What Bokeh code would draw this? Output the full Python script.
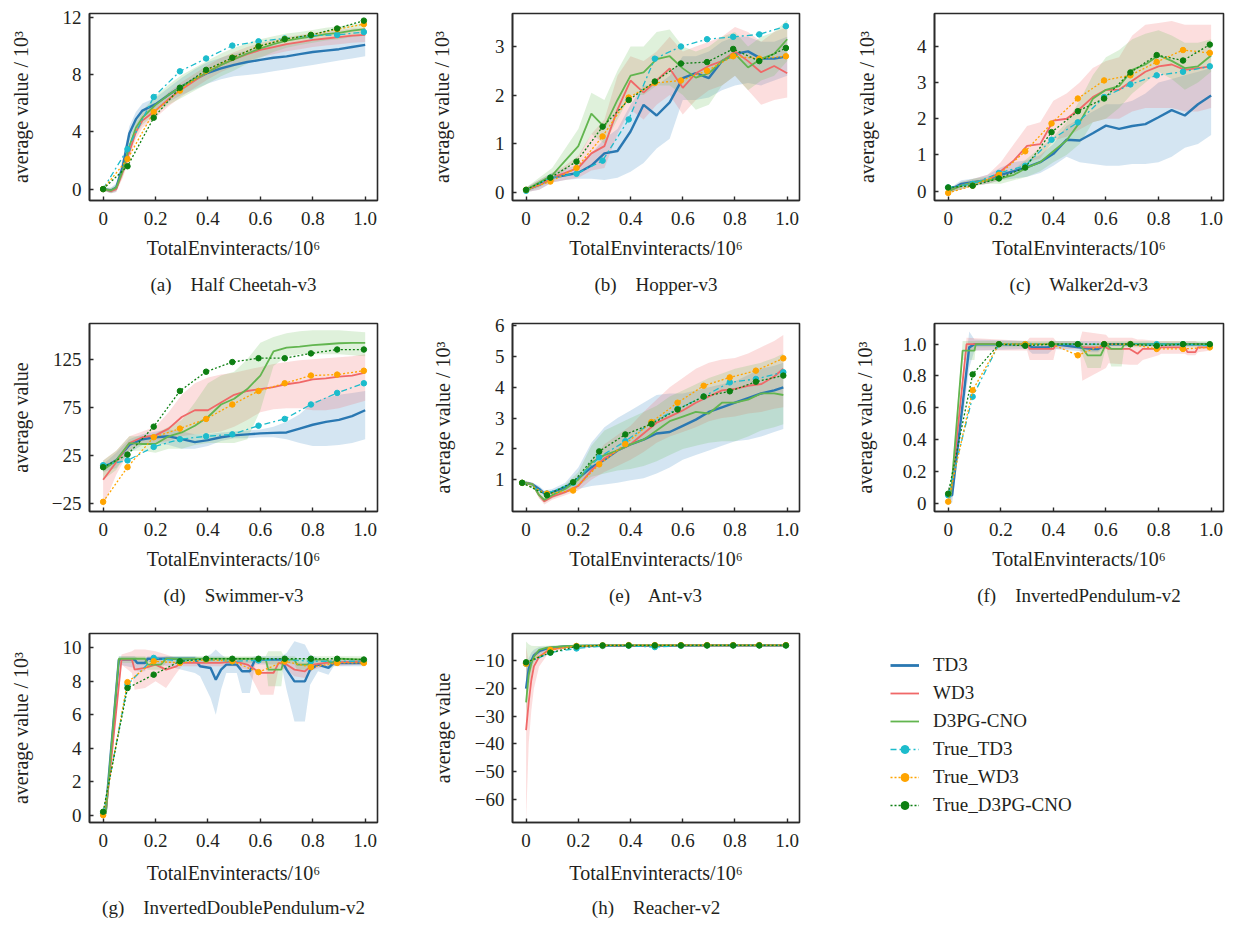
from bokeh.plotting import figure
from bokeh.layouts import gridplot
from bokeh.models import (Range1d, FixedTicker, CustomJSTickFormatter, Title,
                          Legend, LegendItem)
from bokeh.embed import file_html
from bokeh.resources import INLINE

FONT = "Liberation Serif"
TXT = "#231f20"
AXC = "#2a2a2a"

SERIES = ["TD3", "WD3", "D3PG-CNO", "True_TD3", "True_WD3", "True_D3PG-CNO"]
LINE_COLORS = ["#2a78b2", "#f06868", "#62b54f", "#1cbccc", "#ffa400", "#0d7f12"]
BAND_COLORS = ["#3b88c4", "#f36b6b", "#6cc05a"]

# ---------------- shared x values ----------------
X21 = [0.0, 0.05, 0.1, 0.15, 0.2, 0.25, 0.3, 0.35, 0.4, 0.45, 0.5,
       0.55, 0.6, 0.65, 0.7, 0.75, 0.8, 0.85, 0.9, 0.95, 1.0]
TX = [0.0, 0.093, 0.193, 0.293, 0.393, 0.493, 0.593, 0.693, 0.793, 0.893, 0.995]

# ---------------- (a) Half Cheetah-v3 ----------------
A_X = [0.0, 0.03, 0.05, 0.075, 0.1, 0.125, 0.15, 0.2, 0.25, 0.3, 0.35, 0.4,
       0.45, 0.5, 0.55, 0.6, 0.65, 0.7, 0.75, 0.8, 0.85, 0.9, 0.95, 1.0]
A_TD3 = [0.0, -0.1, 0.1, 1.6, 3.9, 4.9, 5.5, 5.95, 6.6, 7.2, 7.7, 8.15, 8.45, 8.7, 8.9, 9.05, 9.2, 9.3, 9.45, 9.6, 9.7, 9.8, 9.95, 10.1]
A_TD3_LO = [-0.1, -0.3, -0.2, 1.1, 3.4, 4.4, 5.0, 5.5, 6.1, 6.6, 7.0, 7.4, 7.7, 7.9, 8.0, 8.1, 8.25, 8.4, 8.55, 8.7, 8.85, 9.0, 9.15, 9.3]
A_TD3_HI = [0.1, 0.1, 0.4, 2.1, 4.4, 5.4, 6.0, 6.4, 7.1, 7.8, 8.4, 8.9, 9.2, 9.5, 9.7, 9.9, 10.05, 10.2, 10.3, 10.4, 10.5, 10.6, 10.75, 10.9]
A_WD3 = [0.0, -0.15, 0.0, 1.2, 2.6, 4.0, 4.8, 5.5, 6.3, 7.0, 7.6, 8.2, 8.7, 9.1, 9.45, 9.75, 9.95, 10.15, 10.3, 10.45, 10.55, 10.65, 10.75, 10.8]
A_WD3_LO = [-0.1, -0.3, -0.2, 0.8, 2.1, 3.5, 4.3, 5.0, 5.8, 6.5, 7.1, 7.7, 8.2, 8.6, 8.95, 9.25, 9.45, 9.65, 9.8, 9.95, 10.05, 10.15, 10.25, 10.3]
A_WD3_HI = [0.1, 0.0, 0.2, 1.6, 3.1, 4.5, 5.3, 6.0, 6.8, 7.5, 8.1, 8.7, 9.2, 9.6, 9.95, 10.25, 10.45, 10.65, 10.8, 10.95, 11.05, 11.15, 11.25, 11.3]
A_D3 = [0.0, -0.1, 0.1, 1.3, 3.0, 4.3, 5.0, 5.9, 6.6, 7.2, 7.7, 8.2, 8.7, 9.1, 9.5, 9.85, 10.15, 10.4, 10.55, 10.7, 10.85, 10.95, 11.1, 11.2]
A_D3_LO = [-0.1, -0.3, -0.1, 0.9, 2.5, 3.8, 4.5, 5.3, 5.9, 6.4, 6.9, 7.4, 7.9, 8.3, 8.8, 9.2, 9.6, 9.9, 10.1, 10.25, 10.4, 10.5, 10.65, 10.75]
A_D3_HI = [0.1, 0.1, 0.3, 1.7, 3.5, 4.8, 5.5, 6.5, 7.3, 8.0, 8.5, 9.0, 9.5, 9.9, 10.2, 10.5, 10.7, 10.9, 11.0, 11.15, 11.3, 11.4, 11.55, 11.65]
A_T_TD3 = [0.0, 2.8, 6.45, 8.25, 9.15, 10.05, 10.35, 10.55, 10.75, 10.8, 11.0]
A_T_WD3 = [0.0, 2.1, 5.4, 6.9, 8.3, 9.2, 10.0, 10.5, 10.8, 11.2, 11.55]
A_T_D3 = [0.0, 1.6, 5.0, 7.1, 8.35, 9.2, 10.0, 10.5, 10.8, 11.25, 11.8]

# ---------------- (b) Hopper-v3 ----------------
B_TD3 = [0.05, 0.15, 0.3, 0.35, 0.4, 0.55, 0.8, 0.85, 1.25, 1.8, 1.58, 1.85, 2.35, 2.45, 2.35, 2.7, 2.85, 2.9, 2.75, 2.75, 2.8]
B_TD3_LO = [0.0, 0.05, 0.2, 0.25, 0.28, 0.28, 0.25, 0.3, 0.42, 0.6, 0.9, 1.1, 1.9, 1.9, 1.95, 2.1, 2.2, 2.25, 2.2, 2.3, 2.4]
B_TD3_HI = [0.1, 0.25, 0.4, 0.5, 0.55, 0.8, 1.1, 1.3, 1.8, 2.2, 2.2, 2.4, 2.8, 2.8, 2.9, 3.1, 3.2, 3.2, 3.1, 3.1, 3.2]
B_WD3 = [0.05, 0.15, 0.3, 0.4, 0.5, 0.8, 0.95, 1.7, 2.3, 2.05, 2.3, 2.55, 2.15, 2.45, 2.6, 2.7, 2.9, 2.7, 2.47, 2.6, 2.45]
B_WD3_LO = [0.0, 0.05, 0.2, 0.25, 0.3, 0.45, 0.5, 1.2, 1.7, 1.5, 1.8, 2.0, 1.6, 1.9, 2.1, 2.2, 2.4, 2.1, 1.8, 1.9, 1.95]
B_WD3_HI = [0.1, 0.25, 0.4, 0.55, 0.75, 1.2, 1.5, 2.4, 2.8, 2.7, 2.9, 3.2, 2.9, 3.0, 3.1, 3.2, 3.4, 3.3, 3.1, 3.3, 3.4]
B_D3 = [0.05, 0.2, 0.35, 0.65, 0.95, 1.62, 1.34, 1.9, 2.4, 2.47, 2.74, 2.8, 2.55, 2.36, 2.45, 2.7, 2.85, 2.57, 2.75, 2.85, 3.15]
B_D3_LO = [0.0, 0.1, 0.25, 0.45, 0.7, 1.2, 1.0, 1.5, 2.0, 2.0, 2.2, 2.2, 2.0, 1.7, 1.8, 2.2, 2.4, 2.1, 2.3, 2.4, 2.7]
B_D3_HI = [0.1, 0.3, 0.5, 0.9, 1.3, 2.05, 1.9, 2.5, 3.0, 3.0, 3.3, 3.35, 3.0, 2.9, 3.0, 3.2, 3.3, 3.0, 3.2, 3.3, 3.55]
B_T_TD3 = [0.03, 0.3, 0.38, 0.65, 1.5, 2.75, 3.0, 3.15, 3.2, 3.25, 3.42]
B_T_WD3 = [0.05, 0.22, 0.5, 1.15, 1.95, 2.25, 2.3, 2.5, 2.8, 2.75, 2.8]
B_T_D3 = [0.05, 0.3, 0.63, 1.35, 1.9, 2.28, 2.65, 2.68, 2.95, 2.7, 2.97]

# ---------------- (c) Walker2d-v3 ----------------
C_TD3 = [0.0, 0.2, 0.25, 0.3, 0.45, 0.55, 0.66, 0.8, 1.03, 1.42, 1.4, 1.6, 1.81, 1.72, 1.8, 1.85, 2.04, 2.24, 2.09, 2.4, 2.64]
C_TD3_LO = [-0.05, 0.05, 0.15, 0.2, 0.3, 0.35, 0.4, 0.5, 0.7, 0.95, 0.8, 0.75, 0.7, 0.7, 0.75, 0.75, 0.8, 0.95, 1.2, 1.3, 1.55]
C_TD3_HI = [0.05, 0.3, 0.35, 0.45, 0.65, 0.8, 0.85, 1.0, 1.3, 1.8, 2.0, 2.2, 2.4, 2.4, 2.5, 2.7, 3.0, 3.1, 3.2, 3.3, 3.4]
C_WD3 = [0.0, 0.15, 0.25, 0.3, 0.55, 0.85, 1.25, 1.3, 1.95, 2.0, 2.27, 2.6, 2.8, 2.8, 3.05, 3.3, 3.45, 3.5, 3.35, 3.4, 3.45]
C_WD3_LO = [-0.05, 0.05, 0.15, 0.2, 0.3, 0.5, 0.8, 0.9, 1.4, 1.5, 1.7, 1.9, 2.0, 2.0, 2.2, 2.3, 2.3, 2.3, 2.2, 2.2, 2.3]
C_WD3_HI = [0.05, 0.25, 0.35, 0.45, 0.8, 1.3, 1.8, 1.9, 2.5, 2.7, 3.0, 3.4, 3.6, 3.7, 4.3, 4.6, 4.65, 4.7, 4.6, 4.6, 4.6]
C_D3 = [0.0, 0.15, 0.25, 0.3, 0.35, 0.45, 0.65, 0.8, 1.1, 1.4, 1.9, 2.55, 2.8, 2.9, 3.35, 3.5, 3.75, 3.6, 3.4, 3.45, 3.75]
C_D3_LO = [-0.05, 0.05, 0.15, 0.2, 0.2, 0.3, 0.4, 0.55, 0.8, 1.0, 1.3, 1.9, 2.0, 2.3, 2.7, 3.0, 3.3, 3.1, 2.8, 3.0, 3.3]
C_D3_HI = [0.05, 0.25, 0.35, 0.4, 0.5, 0.6, 0.9, 1.2, 1.5, 1.9, 2.5, 3.2, 3.7, 3.9, 4.2, 4.35, 4.45, 4.3, 4.1, 4.1, 4.2]
C_T_TD3 = [0.1, 0.2, 0.5, 0.7, 1.42, 1.9, 2.6, 2.95, 3.2, 3.3, 3.45]
C_T_WD3 = [-0.05, 0.15, 0.45, 1.1, 1.87, 2.56, 3.06, 3.2, 3.57, 3.9, 3.82]
C_T_D3 = [0.1, 0.15, 0.35, 0.65, 1.63, 2.21, 2.56, 3.28, 3.76, 3.61, 4.05]

# ---------------- (d) Swimmer-v3 ----------------
D_TD3 = [12, 20, 36, 42, 44, 45, 42, 39, 41, 44, 46, 47, 48, 48.5, 49, 53, 57, 60, 62, 66, 72]
D_TD3_LO = [8, 12, 28, 36, 38, 36, 32, 32, 35, 40, 43, 43, 44, 44, 42, 38, 35, 35, 36, 38, 42]
D_TD3_HI = [16, 28, 42, 47, 50, 52, 50, 47, 47, 49, 50, 51, 52, 55, 60, 68, 80, 85, 88, 90, 92]
D_WD3 = [0, 18, 38, 44, 46, 53, 65, 72, 72, 80, 88, 92, 94, 96, 99, 101, 104, 105, 107, 108, 111]
D_WD3_LO = [-28, 5, 30, 38, 38, 40, 45, 47, 48, 50, 55, 62, 70, 73, 74, 74, 72, 72, 74, 78, 82]
D_WD3_HI = [20, 30, 45, 50, 55, 70, 88, 100, 106, 109, 111, 114, 117, 120, 122, 124, 125, 126, 127, 128, 130]
D_D3 = [10, 20, 38, 37, 37, 45, 49, 56, 65, 78, 84, 94, 108, 133, 137, 138, 139.5, 140.5, 141.5, 142, 142]
D_D3_LO = [0, 10, 30, 30, 28, 32, 32, 36, 38, 38, 38, 42, 72, 118, 128, 130, 130, 130, 130, 129, 128]
D_D3_HI = [20, 30, 45, 45, 48, 55, 62, 80, 100, 108, 112, 125, 142, 148, 152, 154, 155, 155, 155, 154, 153]
D_T_TD3 = [15, 20, 34, 42, 45, 47, 56, 63, 78, 90, 100]
D_T_WD3 = [-23, 13, 44, 53, 63, 78, 92, 100, 108, 109, 113]
D_T_D3 = [13, 26, 55, 92, 112, 122, 126, 126, 131, 135, 135]

# ---------------- (e) Ant-v3 ----------------
E_X = [-0.02, 0.0, 0.025, 0.05, 0.07, 0.1, 0.15, 0.2, 0.25, 0.3, 0.35, 0.4,
       0.45, 0.5, 0.55, 0.6, 0.65, 0.7, 0.75, 0.8, 0.85, 0.9, 0.95, 0.985]
E_TX = [-0.015, 0.08, 0.18, 0.28, 0.38, 0.48, 0.58, 0.68, 0.78, 0.88, 0.985]
E_TD3 = [0.9, 0.9, 0.85, 0.7, 0.55, 0.6, 0.75, 1.05, 1.4, 1.65, 1.95, 2.15, 2.3, 2.5, 2.55, 2.75, 2.95, 3.2, 3.35, 3.5, 3.65, 3.8, 3.9, 4.0]
E_TD3_LO = [0.85, 0.85, 0.8, 0.6, 0.45, 0.5, 0.6, 0.7, 0.8, 0.85, 0.9, 0.98, 1.05, 1.2, 1.4, 1.65, 1.8, 1.95, 2.1, 2.25, 2.3, 2.4, 2.55, 2.65]
E_TD3_HI = [0.95, 0.95, 0.9, 0.8, 0.65, 0.7, 0.9, 1.4, 2.2, 2.7, 3.0, 3.25, 3.5, 3.75, 3.8, 3.8, 3.9, 4.0, 4.1, 4.2, 4.4, 4.6, 4.7, 4.8]
E_WD3 = [0.9, 0.9, 0.85, 0.5, 0.3, 0.45, 0.6, 0.8, 1.3, 1.7, 1.95, 2.15, 2.5, 2.85, 3.05, 3.25, 3.5, 3.7, 3.9, 3.95, 4.05, 4.1, 4.35, 4.6]
E_WD3_LO = [0.85, 0.85, 0.8, 0.4, 0.2, 0.35, 0.5, 0.65, 1.0, 1.25, 1.45, 1.65, 1.9, 2.2, 2.4, 2.55, 2.7, 2.9, 3.0, 3.05, 3.15, 3.2, 3.3, 3.35]
E_WD3_HI = [0.95, 0.95, 0.9, 0.6, 0.4, 0.55, 0.7, 0.95, 1.6, 2.15, 2.45, 2.75, 3.2, 3.6, 4.0, 4.3, 4.6, 4.8, 4.9, 4.95, 5.1, 5.3, 5.5, 5.7]
E_D3 = [0.9, 0.9, 0.85, 0.5, 0.35, 0.5, 0.7, 1.0, 1.55, 1.8, 1.95, 2.15, 2.3, 2.6, 2.9, 3.05, 3.2, 3.15, 3.5, 3.5, 3.6, 3.8, 3.8, 3.75]
E_D3_LO = [0.85, 0.85, 0.8, 0.4, 0.25, 0.4, 0.55, 0.8, 1.1, 1.2, 1.3, 1.35, 1.45, 1.6, 1.8, 2.0, 2.1, 2.2, 2.25, 2.25, 2.4, 2.6, 2.7, 2.8]
E_D3_HI = [0.95, 0.95, 0.9, 0.6, 0.45, 0.6, 0.85, 1.25, 2.1, 2.6, 2.8, 3.0, 3.2, 3.4, 3.7, 3.9, 4.1, 4.3, 4.45, 4.6, 4.7, 4.8, 4.95, 5.1]
E_T_TD3 = [0.9, 0.55, 0.9, 1.73, 2.25, 2.85, 3.3, 3.7, 4.16, 4.27, 4.49]
E_T_WD3 = [0.9, 0.55, 0.65, 1.5, 2.16, 2.87, 3.5, 4.05, 4.32, 4.54, 4.94]
E_T_D3 = [0.9, 0.5, 0.92, 1.92, 2.47, 2.81, 3.28, 3.7, 3.87, 4.18, 4.38]

# ---------------- (f) InvertedPendulum-v2 ----------------
F_TD3_X = [0.0, 0.015, 0.08, 0.1, 0.3, 0.32, 0.38, 0.4, 0.55, 0.57, 0.6, 1.0]
F_TD3 = [0.05, 0.05, 0.98, 1.0, 1.0, 0.98, 0.98, 1.0, 0.97, 0.97, 1.0, 1.0]
F_TD3_LO = [0.0, 0.0, 0.85, 0.96, 0.97, 0.94, 0.94, 0.97, 0.95, 0.95, 0.99, 0.99]
F_TD3_HI = [0.1, 0.1, 1.08, 1.03, 1.02, 1.01, 1.01, 1.02, 1.02, 1.02, 1.01, 1.01]
F_WD3_X = [0.0, 0.01, 0.07, 0.3, 0.31, 0.4, 0.41, 0.5, 0.51, 0.6, 0.61, 0.69, 0.7, 0.72,
           0.74, 0.8, 0.81, 0.9, 0.91, 0.94, 0.95, 1.0]
F_WD3 = [0.05, 0.05, 1.0, 1.0, 0.97, 0.97, 1.0, 1.0, 0.98, 0.98, 0.97, 0.97, 0.96, 0.94,
         0.97, 0.97, 0.98, 0.98, 0.95, 0.95, 0.98, 0.98]
F_WD3_LO = [0.0, 0.0, 0.96, 0.96, 0.9, 0.9, 0.97, 0.97, 0.77, 0.85, 0.88, 0.87, 0.87, 0.87,
            0.9, 0.93, 0.94, 0.94, 0.93, 0.93, 0.95, 0.96]
F_WD3_HI = [0.1, 0.1, 1.04, 1.02, 1.04, 1.04, 1.02, 1.02, 1.08, 1.06, 1.04, 1.04, 1.04, 1.03,
            1.03, 1.02, 1.02, 1.02, 1.02, 1.02, 1.01, 1.01]
F_D3_X = [0.0, 0.01, 0.055, 0.1, 0.105, 0.5, 0.53, 0.58, 0.6, 0.62, 0.66, 0.67, 1.0]
F_D3 = [0.05, 0.05, 0.96, 0.96, 1.0, 1.0, 0.93, 0.93, 1.0, 0.97, 0.97, 1.0, 1.0]
F_D3_LO = [0.0, 0.0, 0.9, 0.9, 0.98, 0.98, 0.85, 0.85, 0.98, 0.86, 0.86, 0.98, 0.98]
F_D3_HI = [0.1, 0.1, 1.02, 1.02, 1.02, 1.02, 1.0, 1.0, 1.02, 1.02, 1.02, 1.02, 1.02]
F_T_TD3 = [0.05, 0.67, 1.0, 1.0, 1.0, 1.0, 1.0, 1.0, 1.0, 1.0, 0.99]
F_T_WD3 = [0.01, 0.71, 1.0, 1.0, 1.0, 0.93, 1.0, 1.0, 0.97, 0.97, 0.98]
F_T_D3 = [0.06, 0.81, 1.0, 0.99, 1.0, 1.0, 1.0, 1.0, 0.99, 1.0, 1.0]

# ---------------- (g) InvertedDoublePendulum-v2 ----------------
G_TD3_X = [0.0, 0.01, 0.06, 0.12, 0.13, 0.16, 0.17, 0.35, 0.37, 0.41, 0.43, 0.45, 0.47,
           0.51, 0.53, 0.56, 0.58, 0.68, 0.7, 0.73, 0.77, 0.79, 0.82, 0.86, 0.88, 1.0]
G_TD3 = [0.2, 0.2, 9.3, 9.3, 9.1, 9.1, 9.35, 9.35, 8.9, 8.8, 8.1, 8.7, 9.0,
         9.0, 8.6, 8.6, 9.3, 9.3, 8.7, 8.0, 8.0, 8.7, 9.0, 8.8, 9.1, 9.1]
G_TD3_LO = [0.0, 0.0, 9.0, 8.8, 8.6, 8.6, 9.2, 8.5, 8.3, 7.0, 6.0, 7.5, 8.5,
            8.5, 7.3, 7.3, 9.0, 9.0, 7.5, 5.6, 5.6, 7.8, 8.6, 8.4, 8.9, 8.9]
G_TD3_HI = [0.4, 0.4, 9.5, 9.5, 9.4, 9.4, 9.5, 9.5, 9.4, 9.6, 9.9, 9.6, 9.4,
            9.4, 9.4, 9.4, 9.5, 9.5, 9.7, 10.4, 10.2, 9.6, 9.4, 9.3, 9.3, 9.3]
G_WD3_X = [0.0, 0.01, 0.07, 0.11, 0.12, 0.16, 0.2, 0.24, 0.28, 0.3, 0.45, 0.5, 0.55,
           0.6, 0.65, 0.67, 0.7, 0.73, 0.77, 0.8, 0.85, 1.0]
G_WD3 = [0.1, 0.1, 9.3, 9.3, 8.7, 8.8, 9.0, 8.7, 8.9, 9.1, 9.1, 9.2, 9.0,
         8.5, 8.5, 9.1, 9.0, 8.7, 8.6, 9.0, 9.1, 9.2]
G_WD3_LO = [0.0, 0.0, 9.0, 8.5, 7.5, 7.6, 8.0, 7.6, 8.5, 8.9, 8.9, 8.9, 8.7,
            7.2, 7.2, 8.8, 8.7, 8.3, 8.2, 8.7, 8.9, 9.0]
G_WD3_HI = [0.3, 0.3, 9.6, 9.8, 9.9, 9.9, 9.8, 9.6, 9.4, 9.3, 9.3, 9.4, 9.3,
            9.3, 9.3, 9.4, 9.3, 9.2, 9.1, 9.3, 9.3, 9.4]
G_D3_X = [0.0, 0.01, 0.06, 0.16, 0.17, 0.22, 0.24, 0.62, 0.63, 0.68, 0.69, 0.73, 0.74,
          0.78, 0.8, 0.85, 0.87, 0.9, 1.0]
G_D3 = [0.1, 0.1, 9.35, 9.35, 9.0, 9.0, 9.35, 9.35, 8.7, 8.7, 9.3, 9.3, 9.0,
        9.0, 9.3, 9.3, 9.1, 9.35, 9.3]
G_D3_LO = [0.0, 0.0, 9.1, 9.1, 8.7, 8.7, 9.1, 9.1, 7.7, 7.7, 9.1, 9.0, 8.7,
           8.7, 9.0, 9.0, 8.8, 9.1, 9.1]
G_D3_HI = [0.3, 0.3, 9.5, 9.5, 9.4, 9.4, 9.5, 9.5, 9.8, 9.8, 9.5, 9.5, 9.4,
           9.4, 9.5, 9.5, 9.5, 9.5, 9.5]
G_T_TD3 = [0.1, 7.8, 9.4, 9.2, 9.3, 9.2, 9.25, 9.3, 9.2, 9.2, 9.2]
G_T_WD3 = [0.0, 7.95, 9.2, 9.1, 9.3, 9.2, 8.55, 9.2, 8.85, 9.1, 9.1]
G_T_D3 = [0.2, 7.6, 8.4, 9.2, 9.35, 9.35, 9.35, 9.35, 9.35, 9.35, 9.3]

# ---------------- (h) Reacher-v2 ----------------
H_X = [0.0, 0.01, 0.02, 0.03, 0.05, 0.08, 0.1, 0.15, 0.2, 0.3, 0.5, 0.7, 1.0]
H_TD3 = [-20, -13, -10, -8, -6.5, -5.5, -5.2, -4.8, -4.6, -4.5, -4.5, -4.4, -4.4]
H_TD3_LO = [-25, -17, -13, -10, -8, -6.5, -6, -5.3, -5, -4.9, -4.9, -4.8, -4.8]
H_TD3_HI = [-12, -9, -7, -6, -5, -4.8, -4.6, -4.4, -4.3, -4.2, -4.2, -4.1, -4.1]
H_WD3 = [-35, -25, -17, -12, -8.5, -6.5, -5.8, -5.0, -4.7, -4.5, -4.5, -4.4, -4.4]
H_WD3_LO = [-68, -40, -28, -20, -12, -8, -7, -5.6, -5.2, -4.9, -4.9, -4.8, -4.8]
H_WD3_HI = [-5, -10, -9, -7, -6, -5.2, -4.9, -4.5, -4.3, -4.2, -4.2, -4.1, -4.1]
H_D3 = [-25, -15, -11, -8.5, -6.0, -5.2, -5.0, -4.7, -4.5, -4.4, -4.4, -4.4, -4.4]
H_D3_LO = [-30, -20, -15, -11, -7.5, -6, -5.6, -5.1, -4.9, -4.8, -4.8, -4.7, -4.7]
H_D3_HI = [-3, -4, -4.5, -4.6, -4.6, -4.5, -4.4, -4.3, -4.2, -4.1, -4.1, -4.1, -4.1]
H_T_TD3 = [-11, -7, -5.5, -4.6, -4.5, -5.0, -4.5, -4.4, -4.4, -4.4, -4.4]
H_T_WD3 = [-11, -6, -4.6, -4.4, -4.3, -4.3, -4.3, -4.3, -4.3, -4.3, -4.3]
H_T_D3 = [-10.5, -7, -4.8, -4.4, -4.4, -4.4, -4.4, -4.4, -4.4, -4.4, -4.4]

# ---------------- labels ----------------
X_LABEL = "TotalEnvinteracts/10\u2076"
Y_LABEL_K = "average value / 10\u00b3"
Y_LABEL = "average value"
X_TICKS = [0, 0.2, 0.4, 0.6, 0.8, 1.0]
GAP = "\u00a0\u00a0\u00a0 "

PANELS = [
    dict(cap="(a)" + GAP + "Half Cheetah-v3", yl=Y_LABEL_K, yr=(-0.8, 12.3), yt=[0, 4, 8, 12], yd=0, ls=28,
         main=[(A_X, A_TD3, A_TD3_LO, A_TD3_HI), (A_X, A_WD3, A_WD3_LO, A_WD3_HI), (A_X, A_D3, A_D3_LO, A_D3_HI)],
         tx=TX, true=[A_T_TD3, A_T_WD3, A_T_D3]),
    dict(cap="(b)" + GAP + "Hopper-v3", yl=Y_LABEL_K, yr=(-0.17, 3.68), yt=[0, 1, 2, 3], yd=0, ls=39,
         main=[(X21, B_TD3, B_TD3_LO, B_TD3_HI), (X21, B_WD3, B_WD3_LO, B_WD3_HI), (X21, B_D3, B_D3_LO, B_D3_HI)],
         tx=TX, true=[B_T_TD3, B_T_WD3, B_T_D3]),
    dict(cap="(c)" + GAP + "Walker2d-v3", yl=Y_LABEL_K, yr=(-0.26, 4.91), yt=[0, 1, 2, 3, 4], yd=0, ls=36,
         main=[(X21, C_TD3, C_TD3_LO, C_TD3_HI), (X21, C_WD3, C_WD3_LO, C_WD3_HI), (X21, C_D3, C_D3_LO, C_D3_HI)],
         tx=TX, true=[C_T_TD3, C_T_WD3, C_T_D3]),
    dict(cap="(d)" + GAP + "Swimmer-v3", yl=Y_LABEL, yr=(-33, 162), yt=[-25, 25, 75, 125], yd=0, ls=17,
         main=[(X21, D_TD3, D_TD3_LO, D_TD3_HI), (X21, D_WD3, D_WD3_LO, D_WD3_HI), (X21, D_D3, D_D3_LO, D_D3_HI)],
         tx=TX, true=[D_T_TD3, D_T_WD3, D_T_D3]),
    dict(cap="(e)" + GAP + "Ant-v3", yl=Y_LABEL_K, yr=(-0.03, 6.07), yt=[1, 2, 3, 4, 5, 6], yd=0, ls=38,
         main=[(E_X, E_TD3, E_TD3_LO, E_TD3_HI), (E_X, E_WD3, E_WD3_LO, E_WD3_HI), (E_X, E_D3, E_D3_LO, E_D3_HI)],
         tx=E_TX, true=[E_T_TD3, E_T_WD3, E_T_D3]),
    dict(cap="(f)" + GAP + "InvertedPendulum-v2", yl=Y_LABEL_K, yr=(-0.052, 1.13), yt=[0, 0.2, 0.4, 0.6, 0.8, 1.0], yd=1, ls=24,
         main=[(F_TD3_X, F_TD3, F_TD3_LO, F_TD3_HI), (F_WD3_X, F_WD3, F_WD3_LO, F_WD3_HI), (F_D3_X, F_D3, F_D3_LO, F_D3_HI)],
         tx=TX, true=[F_T_TD3, F_T_WD3, F_T_D3]),
    dict(cap="(g)" + GAP + "InvertedDoublePendulum-v2", yl=Y_LABEL_K, yr=(-0.44, 10.86), yt=[0, 2, 4, 6, 8, 10], yd=0, ls=28,
         main=[(G_TD3_X, G_TD3, G_TD3_LO, G_TD3_HI), (G_WD3_X, G_WD3, G_WD3_LO, G_WD3_HI), (G_D3_X, G_D3, G_D3_LO, G_D3_HI)],
         tx=TX, true=[G_T_TD3, G_T_WD3, G_T_D3]),
    dict(cap="(h)" + GAP + "Reacher-v2", yl=Y_LABEL, yr=(-68.4, -0.1), yt=[-60, -50, -40, -30, -20, -10], yd=0, ls=18,
         main=[(H_X, H_TD3, H_TD3_LO, H_TD3_HI), (H_X, H_WD3, H_WD3_LO, H_WD3_HI), (H_X, H_D3, H_D3_LO, H_D3_HI)],
         tx=TX, true=[H_T_TD3, H_T_WD3, H_T_D3]),
]

# ---------------- geometry ----------------
COL_W = [422, 422, 390]
COL_LEFT = [89, 90, 90]
COL_FRAME = [288, 287, 289]
ROW_H = [310, 310, 308]
ROW_TOP = [13, 13, 13]
ROW_FRAME = [187, 188, 189]
ROW_XLS = [9, 9, 12]
ROW_TS = [20, 20, 16]
XR = (-0.052, 1.047)
DASHES = ["6 3 2 3", "2 2", "2 2"]


def fmt(dec):
    return CustomJSTickFormatter(code=(
        "if (Math.abs(tick) < 1e-9) { return '0'; }\n"
        "return tick.toFixed(%d).replace('-', '\\u2212');" % dec))


def style_axis(ax):
    ax.axis_line_color = AXC
    ax.axis_line_width = 1.6
    ax.major_tick_line_color = AXC
    ax.major_tick_line_width = 1.4
    ax.major_tick_in = 4
    ax.major_tick_out = 0
    ax.minor_tick_line_color = None
    ax.major_label_text_font = FONT
    ax.major_label_text_font_size = "19px"
    ax.major_label_text_color = TXT
    ax.axis_label_text_font = FONT
    ax.axis_label_text_font_size = "20px"
    ax.axis_label_text_font_style = "normal"
    ax.axis_label_text_color = TXT


def make_panel(cfg, col, row):
    p = figure(width=COL_W[col], height=ROW_H[row], output_backend="svg",
               toolbar_location=None,
               x_range=Range1d(*XR), y_range=Range1d(*cfg["yr"]),
               min_border_left=COL_LEFT[col],
               min_border_right=COL_W[col] - COL_LEFT[col] - COL_FRAME[col],
               min_border_top=ROW_TOP[row],
               min_border_bottom=ROW_H[row] - ROW_TOP[row] - ROW_FRAME[row])
    p.grid.visible = False
    p.outline_line_color = AXC
    p.outline_line_width = 1.6
    p.background_fill_color = "white"
    p.border_fill_color = "white"

    for (x, m, lo, hi), bc in zip(cfg["main"], BAND_COLORS):
        p.varea(x=x, y1=lo, y2=hi, fill_color=bc, fill_alpha=0.22)
    widths = [2.4, 1.8, 1.8]
    for (x, m, lo, hi), lc, w in zip(cfg["main"], LINE_COLORS[:3], widths):
        p.line(x, m, line_color=lc, line_width=w)
    for ys, lc, d in zip(cfg["true"], LINE_COLORS[3:], DASHES):
        p.line(cfg["tx"], ys, line_color=lc, line_width=1.3, line_dash=d)
        p.scatter(cfg["tx"], ys, size=5.5, fill_color=lc, line_color=lc)

    xa = p.xaxis[0]
    ya = p.yaxis[0]
    style_axis(xa)
    style_axis(ya)
    xa.ticker = FixedTicker(ticks=X_TICKS, minor_ticks=[])
    xa.formatter = fmt(1)
    xa.axis_label = X_LABEL
    xa.major_label_standoff = 11
    xa.axis_label_standoff = ROW_XLS[row]
    ya.ticker = FixedTicker(ticks=cfg["yt"], minor_ticks=[])
    ya.formatter = fmt(cfg["yd"])
    ya.axis_label = cfg["yl"]
    ya.major_label_standoff = 8
    ya.axis_label_standoff = cfg["ls"]

    p.add_layout(Title(text=cfg["cap"], align="center", text_font=FONT,
                       text_font_size="19px", text_font_style="normal",
                       text_color=TXT, standoff=ROW_TS[row]), "below")
    return p


plots = []
for i, cfg in enumerate(PANELS):
    plots.append(make_panel(cfg, i % 3, i // 3))

# legend panel: frame fills the whole cell and is not aligned to the others
lp = figure(width=COL_W[2], height=ROW_H[2], output_backend="svg", toolbar_location=None,
            x_range=Range1d(0, 1), y_range=Range1d(0, 1),
            x_axis_location=None, y_axis_location=None,
            min_border_left=0, min_border_top=0, min_border_right=0, min_border_bottom=0)
lp.frame_align = False
lp.outline_line_color = None
lp.grid.visible = False
OFF = [-10, -9]
items = []
widths = [2.8, 1.8, 1.8]
for name, lc, w in zip(SERIES[:3], LINE_COLORS[:3], widths):
    r = lp.line(OFF, OFF, line_color=lc, line_width=w)
    items.append(LegendItem(label=name, renderers=[r]))
for name, lc, d in zip(SERIES[3:], LINE_COLORS[3:], DASHES):
    r1 = lp.line(OFF, OFF, line_color=lc, line_width=1.3, line_dash=d)
    r2 = lp.scatter(OFF, OFF, size=5, fill_color=lc, line_color=lc)
    items.append(LegendItem(label=name, renderers=[r1, r2]))
leg = Legend(items=items, location=(46, 112), margin=0, padding=8, spacing=6,
             glyph_width=29, glyph_height=20, label_height=20, label_standoff=14,
             label_text_font=FONT, label_text_font_size="19px", label_text_color=TXT,
             border_line_color=None, background_fill_alpha=0)
lp.add_layout(leg)
plots.append(lp)

grid = gridplot([plots[0:3], plots[3:6], plots[6:9]], toolbar_location=None)

open("out.html", "w").write(file_html(grid, INLINE))
